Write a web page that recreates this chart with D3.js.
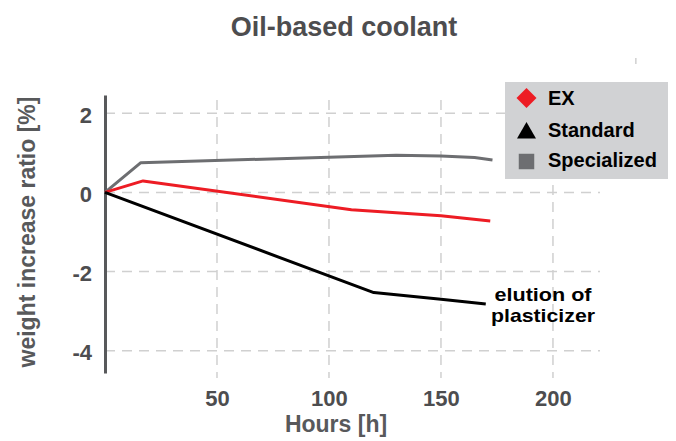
<!DOCTYPE html>
<html>
<head>
<meta charset="utf-8">
<script src="https://cdn.jsdelivr.net/npm/d3@7"></script>
<style>
  body { margin: 0; background: #fff; }
  svg text { font-family: "Liberation Sans", Arial, sans-serif; font-weight: bold; }
</style>
</head>
<body>
<svg id="chart" width="676" height="441"></svg>
<script>
// data
var seriesNames = ["EX", "Standard", "Specialized"];
var exHours = [0, 17, 110, 150, 172];
var exValues = [0, 0.29, -0.44, -0.59, -0.72];
var stdHours = [0, 120, 150, 170];
var stdValues = [0, -2.53, -2.70, -2.82];
var specHours = [0, 16, 100, 130, 150, 165, 173];
var specValues = [0, 0.75, 0.89, 0.94, 0.92, 0.88, 0.82];
var xTicks = [50, 100, 150, 200];
var yTicks = [2, 0, -2, -4];

var svg = d3.select("#chart");

var x = d3.scaleLinear().domain([0, 221]).range([105, 600]);
var y = d3.scaleLinear().domain([-4.56, 2.46]).range([373, 95]);

var zip = function(hs, vs) {
  return hs.map(function(h, i) { return { h: h, v: vs[i] }; });
};

// grid
var grid = svg.append("g")
  .attr("stroke", "#d0d0d0")
  .attr("stroke-width", 1.5)
  .attr("stroke-dasharray", "10,7");

grid.selectAll(".hg").data(yTicks).enter().append("line")
  .attr("x1", x(0)).attr("x2", x(221))
  .attr("y1", function(d) { return y(d); })
  .attr("y2", function(d) { return y(d); });

grid.selectAll(".vg").data(xTicks).enter().append("line")
  .attr("x1", function(d) { return x(d); })
  .attr("x2", function(d) { return x(d); })
  .attr("y1", 100).attr("y2", 378);

// little stray mark top right
svg.append("line")
  .attr("x1", x(237)).attr("x2", x(237))
  .attr("y1", 58).attr("y2", 64)
  .attr("stroke", "#d0d0d0").attr("stroke-width", 1.5);

// y axis
var yAxis = svg.append("g")
  .attr("transform", "translate(" + x(0) + ",0)")
  .call(d3.axisLeft(y).tickValues(yTicks)
    .tickFormat(function(d) { return String(d); })
    .tickSize(0).tickSizeOuter(0).tickPadding(13));
yAxis.select(".domain").attr("stroke", "#58595b").attr("stroke-width", 3);
yAxis.selectAll("text")
  .attr("font-size", 22).attr("fill", "#4d4d4f")
  .attr("font-family", "Liberation Sans, Arial, sans-serif")
  .attr("dy", "0.4em");

// x axis
var xAxis = svg.append("g")
  .attr("transform", "translate(0,406)")
  .call(d3.axisBottom(x).tickValues(xTicks).tickSize(0));
xAxis.select(".domain").remove();
xAxis.selectAll("text")
  .attr("y", 0).attr("dy", 0)
  .attr("font-size", 22).attr("fill", "#4d4d4f")
  .attr("font-family", "Liberation Sans, Arial, sans-serif");

// lines
var line = d3.line()
  .x(function(d) { return x(d.h); })
  .y(function(d) { return y(d.v); });

var lines = [
  { data: zip(specHours, specValues), color: "#6d6e71" },
  { data: zip(exHours, exValues), color: "#ed1c24" },
  { data: zip(stdHours, stdValues), color: "#000000" }
];

svg.selectAll(".series").data(lines).enter().append("path")
  .attr("d", function(d) { return line(d.data); })
  .attr("fill", "none")
  .attr("stroke", function(d) { return d.color; })
  .attr("stroke-width", 3)
  .attr("stroke-linejoin", "round");

// title and axis labels
svg.append("text")
  .attr("x", 344).attr("y", 36)
  .attr("text-anchor", "middle")
  .attr("font-size", 27).attr("fill", "#4d4d4f")
  .text("Oil-based coolant");

svg.append("text")
  .attr("transform", "translate(35,232) rotate(-90)")
  .attr("text-anchor", "middle")
  .attr("font-size", 23).attr("fill", "#58595b")
  .text("weight increase ratio [%]");

svg.append("text")
  .attr("x", 336).attr("y", 432)
  .attr("text-anchor", "middle")
  .attr("font-size", 23).attr("fill", "#58595b")
  .text("Hours [h]");

// annotation, two lines
svg.append("text")
  .attr("x", 543).attr("y", 301)
  .attr("text-anchor", "middle")
  .attr("font-size", 19).attr("fill", "#000")
  .attr("textLength", 97).attr("lengthAdjust", "spacingAndGlyphs")
  .text("elution of");
svg.append("text")
  .attr("x", 543).attr("y", 322)
  .attr("text-anchor", "middle")
  .attr("font-size", 19).attr("fill", "#000")
  .attr("textLength", 104).attr("lengthAdjust", "spacingAndGlyphs")
  .text("plasticizer");

// legend
var legend = svg.append("g");
legend.append("rect")
  .attr("x", 505).attr("y", 82)
  .attr("width", 163).attr("height", 97)
  .attr("fill", "#d1d2d4");

var symbols = [
  { type: d3.symbolSquare, size: 200, rot: 45, color: "#ed1c24", cy: 98 },
  { type: d3.symbolTriangle, size: 156, rot: 0, color: "#000000", cy: 133 },
  { type: d3.symbolSquare, size: 240, rot: 0, color: "#6d6e71", cy: 161.5 }
];
var baselines = [105, 137, 167];

legend.selectAll(".sym").data(symbols).enter().append("path")
  .attr("d", function(d) { return d3.symbol().type(d.type).size(d.size)(); })
  .attr("transform", function(d) { return "translate(526.5," + d.cy + ") rotate(" + d.rot + ")"; })
  .attr("fill", function(d) { return d.color; });

legend.selectAll(".lab").data(seriesNames).enter().append("text")
  .attr("x", 548)
  .attr("y", function(d, i) { return baselines[i]; })
  .attr("font-size", 20).attr("fill", "#000")
  .text(function(d) { return d; });
</script>
</body>
</html>
